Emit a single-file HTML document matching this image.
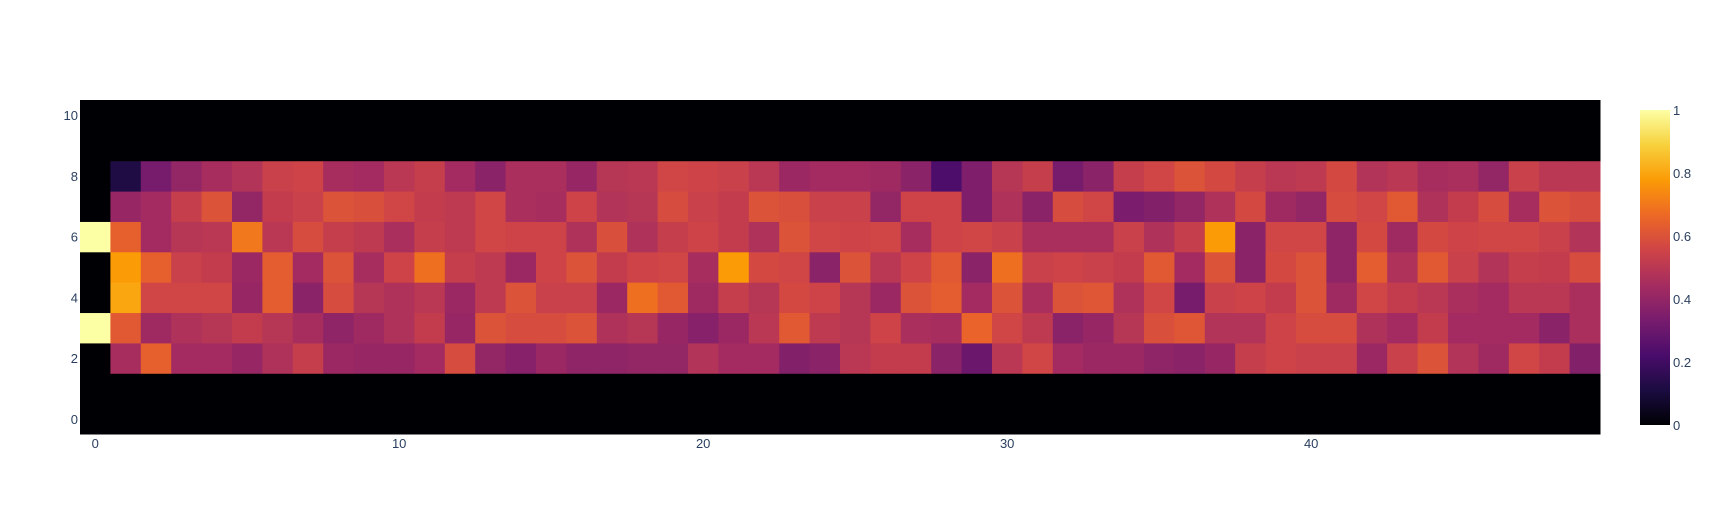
<!DOCTYPE html>
<html><head><meta charset="utf-8">
<style>
body{margin:0;background:#fff;}
svg{display:block;font-family:"Liberation Sans",sans-serif;}
text{fill:#2a3f5f;font-size:13px;}
</style></head>
<body>
<svg id="chart" width="1712" height="515">
<defs>
<linearGradient id="cbgrad" x1="0" y1="1" x2="0" y2="0">
<stop offset="0" stop-color="#000004"/><stop offset="0.111" stop-color="#1b0c41"/>
<stop offset="0.222" stop-color="#4a0c6b"/><stop offset="0.333" stop-color="#781c6d"/>
<stop offset="0.444" stop-color="#a52c60"/><stop offset="0.556" stop-color="#cf4446"/>
<stop offset="0.667" stop-color="#ed6925"/><stop offset="0.778" stop-color="#fb9b06"/>
<stop offset="0.889" stop-color="#f7d13d"/><stop offset="1" stop-color="#fcffa4"/>
</linearGradient>
</defs>
<g id="cells"></g>
<g id="xticks"></g>
<g id="yticks"></g>
<rect x="1640" y="110" width="30" height="315" fill="url(#cbgrad)"/>
<g id="cbticks"></g>
</svg>
<script>
const Z = 0;
const row2 = [0,0.45,0.64,0.44,0.44,0.41,0.47,0.53,0.42,0.41,0.41,0.44,0.58,0.4,0.37,0.42,0.39,0.39,0.4,0.4,0.48,0.44,0.44,0.36,0.38,0.5,0.52,0.52,0.38,0.3,0.5,0.56,0.44,0.42,0.42,0.39,0.38,0.41,0.53,0.55,0.54,0.54,0.42,0.54,0.6,0.48,0.43,0.56,0.52,0.36];
const row3 = [1,0.62,0.43,0.47,0.49,0.52,0.49,0.45,0.39,0.43,0.47,0.52,0.41,0.6,0.58,0.58,0.6,0.47,0.49,0.41,0.37,0.42,0.5,0.62,0.51,0.49,0.55,0.46,0.45,0.65,0.56,0.51,0.38,0.41,0.49,0.59,0.61,0.48,0.48,0.55,0.58,0.58,0.47,0.44,0.52,0.44,0.44,0.44,0.38,0.46];
const row4 = [0,0.8,0.56,0.56,0.56,0.41,0.63,0.38,0.58,0.49,0.47,0.5,0.42,0.51,0.6,0.54,0.54,0.42,0.68,0.62,0.43,0.53,0.49,0.57,0.55,0.49,0.42,0.6,0.63,0.44,0.6,0.46,0.6,0.61,0.47,0.56,0.33,0.54,0.55,0.52,0.6,0.43,0.56,0.52,0.5,0.46,0.44,0.5,0.5,0.46];
const row5 = [0,0.78,0.64,0.54,0.52,0.42,0.63,0.44,0.6,0.45,0.55,0.68,0.53,0.51,0.42,0.55,0.6,0.52,0.55,0.56,0.45,0.78,0.57,0.56,0.38,0.6,0.5,0.55,0.62,0.38,0.68,0.54,0.55,0.54,0.52,0.62,0.44,0.6,0.38,0.57,0.6,0.39,0.63,0.47,0.62,0.54,0.48,0.53,0.52,0.58];
const row6 = [1,0.64,0.44,0.49,0.5,0.7,0.5,0.58,0.53,0.51,0.46,0.53,0.51,0.56,0.55,0.55,0.47,0.59,0.47,0.53,0.55,0.52,0.47,0.6,0.56,0.55,0.56,0.45,0.55,0.56,0.54,0.46,0.46,0.46,0.54,0.47,0.53,0.78,0.38,0.56,0.56,0.39,0.57,0.43,0.57,0.55,0.56,0.56,0.54,0.48];
const row7 = [0,0.41,0.44,0.53,0.6,0.4,0.52,0.54,0.6,0.59,0.56,0.52,0.51,0.56,0.46,0.45,0.55,0.48,0.49,0.58,0.54,0.52,0.6,0.59,0.54,0.54,0.4,0.55,0.55,0.35,0.47,0.38,0.58,0.56,0.34,0.36,0.4,0.47,0.57,0.43,0.4,0.58,0.56,0.62,0.47,0.52,0.58,0.45,0.6,0.58];
const row8 = [0,0.12,0.33,0.4,0.45,0.48,0.54,0.55,0.45,0.44,0.5,0.53,0.44,0.38,0.46,0.46,0.41,0.49,0.5,0.56,0.55,0.54,0.5,0.42,0.44,0.44,0.43,0.38,0.23,0.35,0.49,0.53,0.33,0.38,0.53,0.56,0.6,0.57,0.53,0.5,0.51,0.57,0.48,0.5,0.45,0.46,0.4,0.54,0.5,0.5];
const zeroRow = new Array(50).fill(0);
const zRows = [zeroRow, zeroRow, row2, row3, row4, row5, row6, row7, row8, zeroRow, zeroRow];
const xTicks = [0,10,20,30,40];
const yTicks = [0,2,4,6,8,10];
const cbTicks = [0,0.2,0.4,0.6,0.8,1];

const NS = "http://www.w3.org/2000/svg";
const L=80,R=1600,T=100,B=434;
const nx=50, ny=11;
const xs = v => L + (v+0.5)*(R-L)/nx;
const ys = v => B - (v+0.5)*(B-T)/ny;
const cw=(R-L)/nx, ch=(B-T)/ny;
const stops=["#000004","#1b0c41","#4a0c6b","#781c6d","#a52c60","#cf4446","#ed6925","#fb9b06","#f7d13d","#fcffa4"];
function hx(c){return [1,3,5].map(i=>parseInt(c.substr(i,2),16));}
function color(v){v=Math.max(0,Math.min(1,v));const p=v*(stops.length-1);const i=Math.min(Math.floor(p),stops.length-2);const f=p-i;const a=hx(stops[i]),b=hx(stops[i+1]);return "rgb("+a.map((x,k)=>Math.round(x+(b[k]-x)*f)).join(",")+")";}
const cells=document.getElementById("cells");
zRows.forEach((row,r)=>row.forEach((v,c)=>{
  const e=document.createElementNS(NS,"rect");
  e.setAttribute("x",(xs(c)-cw/2).toFixed(2));e.setAttribute("y",(ys(r)-ch/2).toFixed(2));
  e.setAttribute("width",(cw+0.5).toFixed(2));e.setAttribute("height",(ch+0.5).toFixed(2));
  e.setAttribute("fill",color(v));
  
  
  cells.appendChild(e);
}));
function txt(g,x,y,s,anchor){const t=document.createElementNS(NS,"text");t.setAttribute("x",x);t.setAttribute("y",y);t.setAttribute("text-anchor",anchor);t.textContent=s;g.appendChild(t);return t;}
const xg=document.getElementById("xticks");
xTicks.forEach(v=>{const t=txt(xg,xs(v),448,String(v),"middle");
  
  });
const yg=document.getElementById("yticks");
yTicks.forEach(v=>{const t=txt(yg,78,ys(v)+5,String(v),"end");
  
  });
const cg=document.getElementById("cbticks");
cbTicks.forEach(v=>{const t=txt(cg,1673,425-v*315+5,String(v),"start");
  
  });
</script>
</body></html>
